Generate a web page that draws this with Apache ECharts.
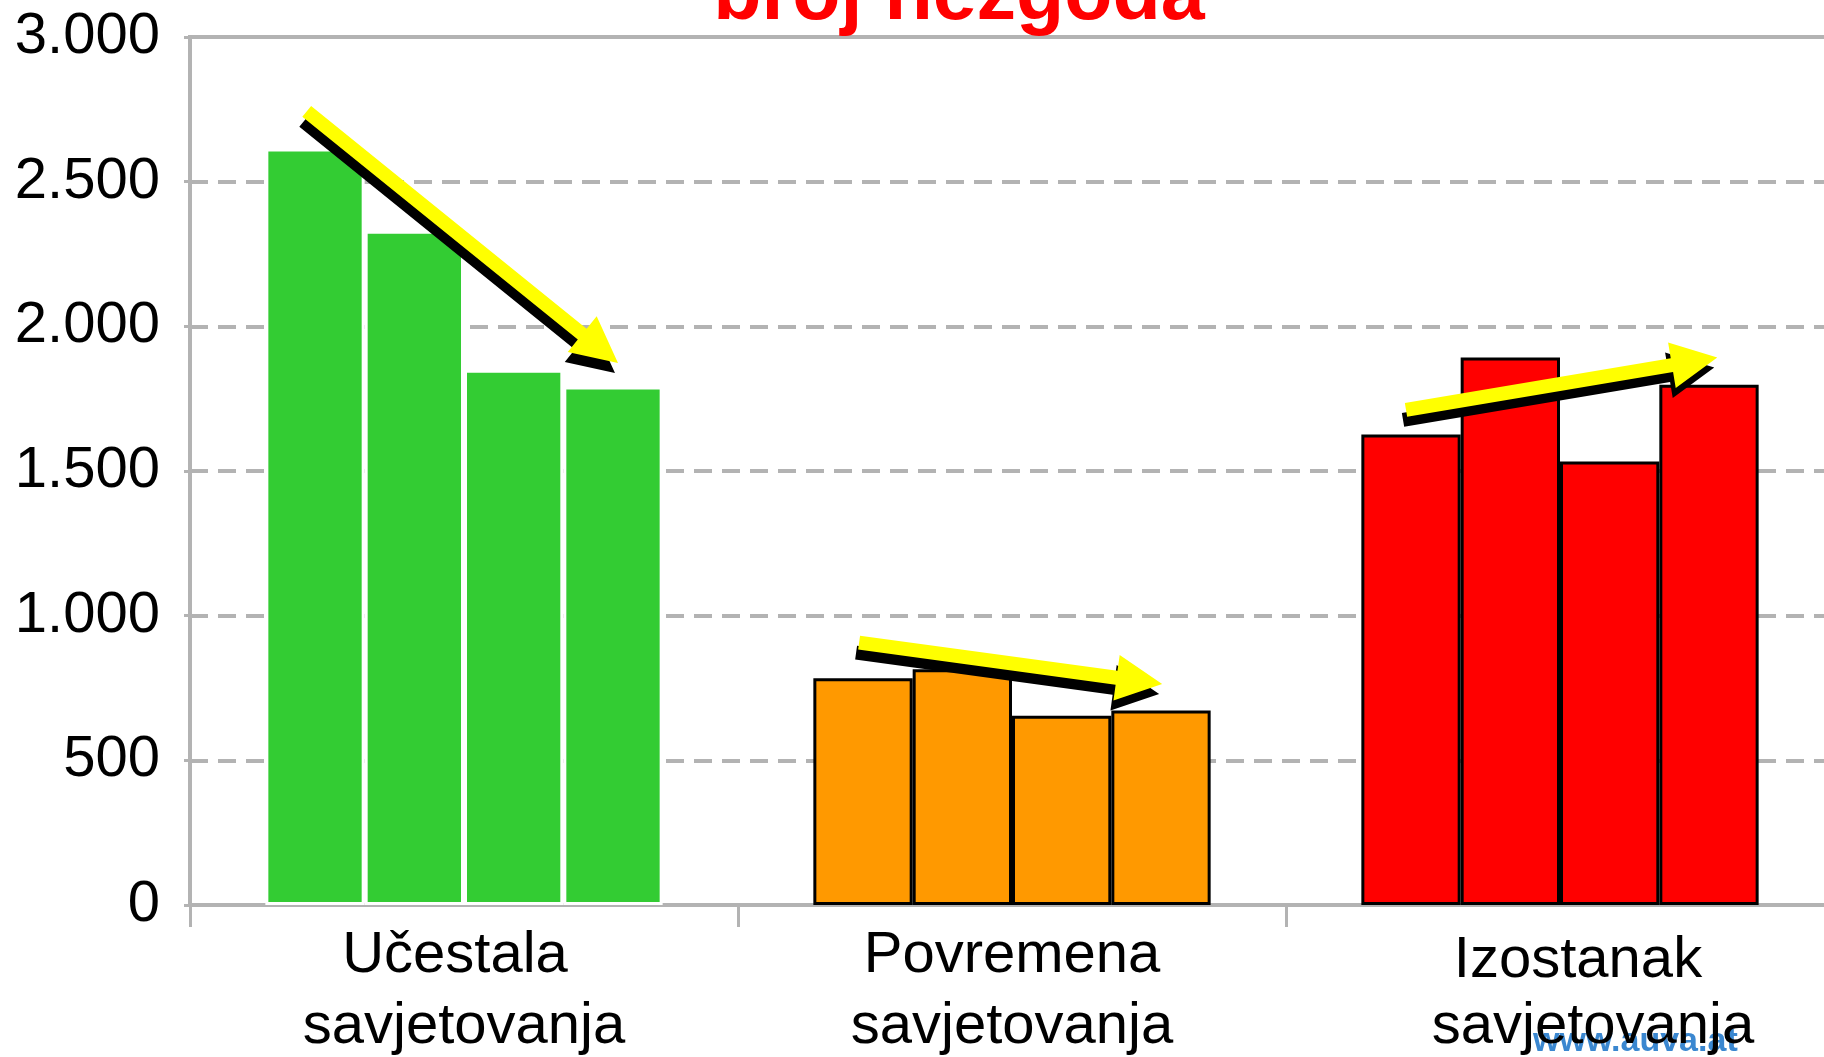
<!DOCTYPE html>
<html>
<head>
<meta charset="utf-8">
<script src="https://cdn.jsdelivr.net/npm/echarts@6/dist/echarts.min.js"></script>
<style>
  html, body { margin: 0; padding: 0; background: #fff; }
  #chart { width: 1824px; height: 1057px; }
</style>
</head>
<body>
<div id="chart"></div>
<script>
// kategorije savjetovanja
const categories = ['Učestala\nsavjetovanja', 'Povremena\nsavjetovanja', 'Izostanak\nsavjetovanja']
const categoryColors = ['#33cc33', '#ff9900', '#ff0000']
const categoryBorders = ['#ffffff', '#000000', '#000000']

// broj nezgoda po razdoblju (4 stupca po kategoriji)
const seriesNames = ['Razdoblje 1', 'Razdoblje 2', 'Razdoblje 3', 'Razdoblje 4']
const period1 = [2615, 784, 1626]
const period2 = [2330, 815, 1892]
const period3 = [1850, 654, 1533]
const period4 = [1792, 672, 1798]

// os y
const yMin = 0
const yMax = 3000
const yStep = 500

// strelice trenda: [x od, y od, x do, y do] (x = indeks kategorije)
const trendArrows = [
  [-0.287, 2743, 0.281, 1873],
  [0.721, 907, 1.274, 764],
  [1.719, 1711, 2.287, 1892]
]

const font = 'Liberation Sans, Arial, sans-serif'
const gray = '#b3b3b3'

const chart = echarts.init(document.getElementById('chart'))

function barData(values) {
  return values.map((v, i) => ({
    value: v,
    itemStyle: {
      color: categoryColors[i],
      borderColor: categoryBorders[i],
      borderWidth: 3
    }
  }))
}

const periods = [period1, period2, period3, period4]
const barSeries = periods.map((vals, k) => ({
  name: seriesNames[k],
  type: 'bar',
  xAxisIndex: 0,
  barGap: '0%',
  barCategoryGap: '27.5%',
  data: barData(vals),
  z: 2
}))

function renderArrow(params, api) {
  const p0 = api.coord([api.value(0), api.value(1)])
  const p1 = api.coord([api.value(2), api.value(3)])
  const dx = p1[0] - p0[0]
  const dy = p1[1] - p0[1]
  const len = Math.sqrt(dx * dx + dy * dy)
  const ux = dx / len, uy = dy / len
  const nx = -uy, ny = ux
  const s = 7, h = 23, L = 46
  const bx = p1[0] - ux * L, by = p1[1] - uy * L
  const pts = [
    [p0[0] + nx * s, p0[1] + ny * s],
    [bx + nx * s, by + ny * s],
    [bx + nx * h, by + ny * h],
    [p1[0], p1[1]],
    [bx - nx * h, by - ny * h],
    [bx - nx * s, by - ny * s],
    [p0[0] - nx * s, p0[1] - ny * s]
  ]
  const shadow = pts.map(p => [p[0] - 3, p[1] + 10])
  return {
    type: 'group',
    children: [
      { type: 'polygon', shape: { points: shadow }, style: { fill: '#000' } },
      { type: 'polygon', shape: { points: pts }, style: { fill: '#ffff00' } }
    ]
  }
}

const option = {
  animation: false,
  backgroundColor: '#fff',
  grid: {
    left: 190,
    top: 37,
    width: 1644,
    height: 868,
    show: true,
    borderColor: gray,
    borderWidth: 4,
    containLabel: false,
    outerBoundsMode: 'none'
  },
  graphic: [
    {
      type: 'text',
      z: 10,
      style: {
        text: 'broj nezgoda',
        x: 959,
        y: -3,
        textAlign: 'center',
        textVerticalAlign: 'middle',
        font: 'bold 79px ' + font,
        fill: '#ff0000'
      }
    },
    {
      type: 'text',
      z: 0,
      style: {
        text: 'www.auva.at',
        x: 1533,
        y: 1042,
        textAlign: 'left',
        textVerticalAlign: 'middle',
        font: 'bold 34px ' + font,
        fill: '#3a87d0'
      }
    }
  ],
  xAxis: [
    {
      type: 'category',
      data: categories,
      axisLine: { lineStyle: { color: gray, width: 4 } },
      axisTick: { show: true, length: 22, lineStyle: { color: gray, width: 3 } },
      splitLine: { show: false },
      axisLabel: {
        margin: 15,
        interval: 0,
        formatter: (val, idx) => {
          const lines = val.split('\n')
          return lines.map((t, j) => `{c${idx}l${j}|${t}}`).join('\n')
        },
        rich: {
          c0l0: { fontSize: 58, fontFamily: font, color: '#000', lineHeight: 71, padding: [0, 18, 0, 0] },
          c0l1: { fontSize: 58, fontFamily: font, color: '#000', lineHeight: 71 },
          c1l0: { fontSize: 58, fontFamily: font, color: '#000', lineHeight: 71 },
          c1l1: { fontSize: 58, fontFamily: font, color: '#000', lineHeight: 71 },
          c2l0: { fontSize: 58, fontFamily: font, color: '#000', lineHeight: 71, padding: [10, 0, 0, 36] },
          c2l1: { fontSize: 58, fontFamily: font, color: '#000', lineHeight: 71, padding: [0, 0, 0, 66] }
        }
      }
    },
    {
      type: 'value',
      show: false,
      min: -0.5,
      max: 2.5
    }
  ],
  yAxis: {
    type: 'value',
    min: yMin,
    max: yMax,
    interval: yStep,
    axisLine: { show: true, onZero: false, lineStyle: { color: gray, width: 4 } },
    axisTick: { show: true, length: 6, lineStyle: { color: gray, width: 3 } },
    splitLine: { lineStyle: { color: gray, width: 4, type: [18, 10] } },
    axisLabel: {
      margin: 30,
      fontSize: 58,
      fontFamily: font,
      color: '#000',
      formatter: v => String(v).replace(/\B(?=(\d{3})+(?!\d))/g, '.')
    }
  },
  series: [
    ...barSeries,
    {
      name: 'trend',
      type: 'custom',
      xAxisIndex: 1,
      renderItem: renderArrow,
      encode: { x: [0, 2], y: [1, 3] },
      data: trendArrows,
      z: 5,
      silent: true
    }
  ]
}

chart.setOption(option)
</script>
</body>
</html>
